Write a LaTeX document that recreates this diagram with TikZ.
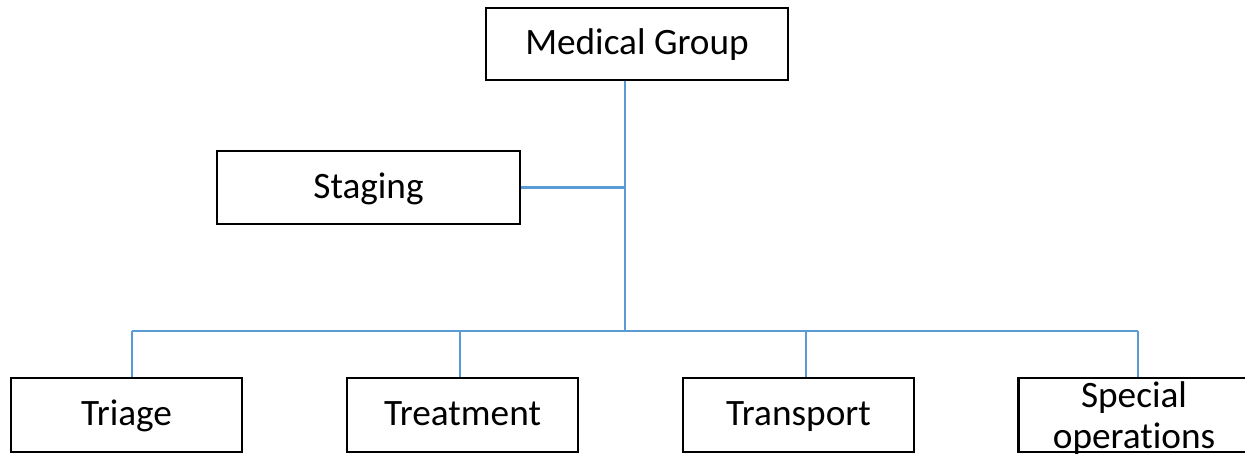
\documentclass[tikz,border=0pt]{standalone}
\usepackage{fontspec}
\setmainfont{Carlito}[Ligatures=NoCommon]
\definecolor{linkblue}{HTML}{5B9BD5}

\begin{document}
\begin{tikzpicture}[
    box/.style={draw=black, line width=0.8pt, minimum width=2.31cm, minimum height=0.74cm,
        inner sep=0pt, text height=0.27cm, text depth=0.05cm, font=\fontsize{10.6}{11.9}\selectfont},
    link/.style={draw=linkblue, line width=0.65pt}]
    \useasboundingbox (0,0) rectangle (12.45,-4.54);
    % --- TOP ---
    \node[box, minimum width=3.02cm, minimum height=0.72cm] (medgrp) at (6.37,-0.44) {Medical Group};
    \node[box, minimum width=3.03cm, minimum height=0.73cm] (staging) at (3.685,-1.875) {Staging};
    % --- BOTTOM ROW ---
    \node[box] (triage) at (1.265,-4.15) {Triage};
    \node[box] (treat) at (4.625,-4.15) {Treatment};
    \node[box] (transp) at (7.985,-4.15) {Transport};
    \node[box] (specops) at (11.34,-4.15) {};
    \node[align=center, inner sep=0pt, font=\fontsize{10.6}{11.9}\selectfont] (specopstxt) at ([yshift=-0.03cm]specops.center) {Special\\operations};
    % --- CONNECTORS ---
    \coordinate (hub) at (6.25,-3.31);
    \draw[link] (medgrp.south -| hub) -- (hub);
    \draw[link] (staging.east) -- (staging.east -| hub);
    \foreach \n/\x in {triage/1.32, treat/4.60, transp/8.06, specops/11.38} {
        \coordinate (drop-\n) at (\x,-3.31);
        \draw[link] (drop-\n) -- (drop-\n |- \n.north);
    }
    \draw[link] (drop-triage) -- (drop-specops);
\end{tikzpicture}
\end{document}
